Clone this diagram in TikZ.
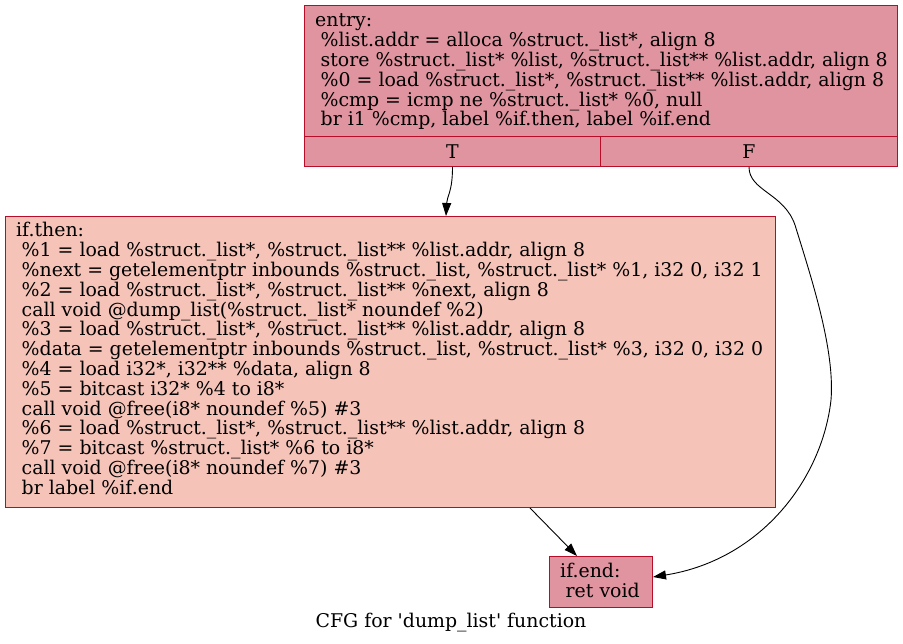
\documentclass[tikz,border=0pt]{standalone}
\usepackage{fontspec}
\setmainfont{DejaVu Serif}[Ligatures=TeXOff]
\usetikzlibrary{arrows.meta}
\definecolor{bord}{HTML}{B70D28}
\definecolor{hot}{RGB}{223,148,159}
\definecolor{warm}{RGB}{245,195,183}
\newcommand{\ind}{\hspace*{5.5pt}}
\newcommand{\firstln}{\rule{0pt}{15pt}}
\begin{document}
\begin{tikzpicture}[x=1pt,y=-1pt,
  box/.style={draw=bord, line width=1pt, rectangle, inner sep=0pt, anchor=north west, font=\fontsize{18.9}{19.8}\selectfont},
  txt/.style={align=left, inner sep=0pt, anchor=north west, font=\fontsize{18.9}{19.8}\selectfont},
  edge/.style={-{Triangle[length=13pt,width=9pt]}, line width=0.9pt}]
\useasboundingbox (0,0) rectangle (903,644);
\fill[white] (0,0) rectangle (903,644);
% blocks
\node[box, fill=hot, minimum width=593pt, minimum height=131pt] (entry) at (304,5) {};
\node[box, fill=hot, minimum width=296pt, minimum height=30pt] (T) at (304,136) {T};
\node[box, fill=hot, minimum width=297pt, minimum height=30pt] (F) at (600,136) {F};
\node[txt] (entrytxt) at (315,11.7) {\firstln entry:\\
\ind\%list.addr = alloca \%struct.\_list*, align 8\\
\ind store \%struct.\_list* \%list, \%struct.\_list** \%list.addr, align 8\\
\ind\%0 = load \%struct.\_list*, \%struct.\_list** \%list.addr, align 8\\
\ind\%cmp = icmp ne \%struct.\_list* \%0, null\\
\ind br i1 \%cmp, label \%if.then, label \%if.end};
\node[box, fill=warm, minimum width=770pt, minimum height=291pt] (ifthen) at (5,216) {};
\node[txt] (ifthentxt) at (16,221.7) {\firstln if.then:\\
\ind\%1 = load \%struct.\_list*, \%struct.\_list** \%list.addr, align 8\\
\ind\%next = getelementptr inbounds \%struct.\_list, \%struct.\_list* \%1, i32 0, i32 1\\
\ind\%2 = load \%struct.\_list*, \%struct.\_list** \%next, align 8\\
\ind call void @dump\_list(\%struct.\_list* noundef \%2)\\
\ind\%3 = load \%struct.\_list*, \%struct.\_list** \%list.addr, align 8\\
\ind\%data = getelementptr inbounds \%struct.\_list, \%struct.\_list* \%3, i32 0, i32 0\\
\ind\%4 = load i32*, i32** \%data, align 8\\
\ind\%5 = bitcast i32* \%4 to i8*\\
\ind call void @free(i8* noundef \%5) \#3\\
\ind\%6 = load \%struct.\_list*, \%struct.\_list** \%list.addr, align 8\\
\ind\%7 = bitcast \%struct.\_list* \%6 to i8*\\
\ind call void @free(i8* noundef \%7) \#3\\
\ind br label \%if.end};
\node[box, fill=hot, minimum width=103pt, minimum height=51pt] (ifend) at (549,556) {};
\node[txt] (ifendtxt) at (560,562) {\firstln if.end:\\
\ind ret void};
% edges
\draw[edge] (T.south) .. controls +(0,25) and +(1,-20) .. ([xshift=441pt]ifthen.north west);
\draw[edge] (F.south) .. controls +(0,24) and (784,193) .. (795,225)
  .. controls (812,280) and (835,350) .. (831,400)
  .. controls (822,480) and (760,560) .. ([yshift=5pt]ifend.east);
\draw[edge] ([xshift=525pt]ifthen.south west) -- ([xshift=28pt]ifend.north west);
% caption
\node[font=\fontsize{18.9}{19.8}\selectfont, anchor=base, inner sep=0pt] (cap) at (451,627) {CFG for 'dump\_list' function};
\end{tikzpicture}
\end{document}
